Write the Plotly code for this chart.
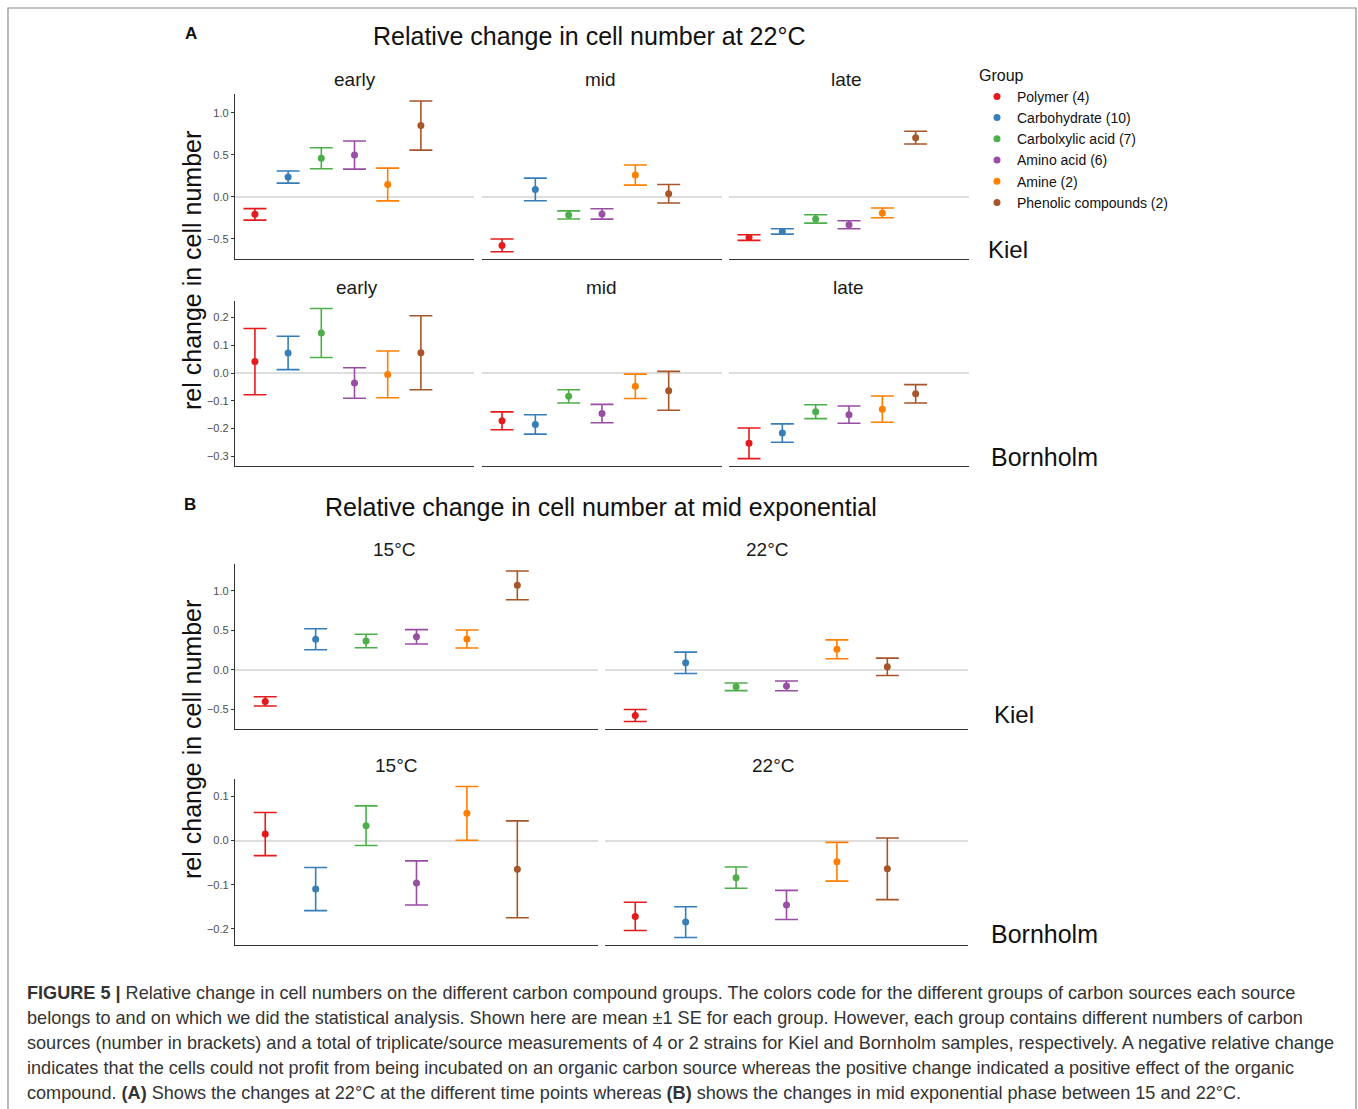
import plotly.graph_objects as go

W, H = 1358, 1109

# ---------------- data ----------------
groups = ["Polymer (4)", "Carbohydrate (10)", "Carbolxylic acid (7)",
          "Amino acid (6)", "Amine (2)", "Phenolic compounds (2)"]
colors = ["#E41A1C", "#377EB8", "#4DAF4A", "#984EA3", "#FF7F00", "#A65628"]

# Panel A: 22°C, Kiel
kiel_early_mean = [-0.210, 0.234, 0.458, 0.496, 0.146, 0.847]
kiel_early_se   = [0.068, 0.072, 0.125, 0.167, 0.195, 0.292]
kiel_mid_mean   = [-0.580, 0.087, -0.217, -0.205, 0.258, 0.036]
kiel_mid_se     = [0.076, 0.135, 0.048, 0.062, 0.120, 0.110]
kiel_late_mean  = [-0.486, -0.413, -0.264, -0.334, -0.193, 0.703]
kiel_late_se    = [0.034, 0.032, 0.050, 0.048, 0.058, 0.076]
# Panel A: 22°C, Bornholm
born_early_mean = [0.041, 0.072, 0.144, -0.036, -0.005, 0.073]
born_early_se   = [0.119, 0.060, 0.088, 0.055, 0.084, 0.133]
born_mid_mean   = [-0.172, -0.185, -0.084, -0.146, -0.048, -0.064]
born_mid_se     = [0.032, 0.035, 0.024, 0.033, 0.044, 0.070]
born_late_mean  = [-0.253, -0.216, -0.139, -0.150, -0.130, -0.075]
born_late_se    = [0.055, 0.033, 0.025, 0.031, 0.047, 0.033]
# Panel B: mid exponential, 15°C (22°C equals the "mid" data above)
kiel_15_mean = [-0.401, 0.386, 0.363, 0.416, 0.388, 1.068]
kiel_15_se   = [0.059, 0.133, 0.085, 0.091, 0.114, 0.182]
born_15_mean = [0.015, -0.110, 0.034, -0.096, 0.062, -0.065]
born_15_se   = [0.049, 0.049, 0.045, 0.050, 0.061, 0.110]

facets_A = ["early", "mid", "late"]
facets_B = ["15°C", "22°C"]
ticks_A_kiel = [-0.5, 0.0, 0.5, 1.0]
ticks_A_born = [-0.3, -0.2, -0.1, 0.0, 0.1, 0.2]
ticks_B_kiel = [-0.5, 0.0, 0.5, 1.0]
ticks_B_born = [-0.2, -0.1, 0.0, 0.1]

# ---------------- layout helpers ----------------
FONT = "Liberation Sans, Arial, sans-serif"
cols_A = [(235, 474), (482, 722), (729, 969)]
cols_B = [(235, 598), (605, 968)]

panels = [
    # (col px, row px, y range, ticks, mean, se, facet title, facet title x px)
    (cols_A[0], (93.5, 259.3), [-0.745, 1.229], ticks_A_kiel, kiel_early_mean, kiel_early_se, facets_A[0], 355),
    (cols_A[1], (93.5, 259.3), [-0.745, 1.229], ticks_A_kiel, kiel_mid_mean, kiel_mid_se, facets_A[1], 600),
    (cols_A[2], (93.5, 259.3), [-0.745, 1.229], ticks_A_kiel, kiel_late_mean, kiel_late_se, facets_A[2], 846),
    (cols_A[0], (301.3, 466.1), [-0.335, 0.258], ticks_A_born, born_early_mean, born_early_se, facets_A[0], 357),
    (cols_A[1], (301.3, 466.1), [-0.335, 0.258], ticks_A_born, born_mid_mean, born_mid_se, facets_A[1], 601),
    (cols_A[2], (301.3, 466.1), [-0.335, 0.258], ticks_A_born, born_late_mean, born_late_se, facets_A[2], 848),
    (cols_B[0], (563.5, 729.2), [-0.753, 1.344], ticks_B_kiel, kiel_15_mean, kiel_15_se, facets_B[0], 394),
    (cols_B[1], (563.5, 729.2), [-0.753, 1.344], ticks_B_kiel, kiel_mid_mean, kiel_mid_se, facets_B[1], 767),
    (cols_B[0], (779.0, 945.0), [-0.237, 0.140], ticks_B_born, born_15_mean, born_15_se, facets_B[0], 396),
    (cols_B[1], (779.0, 945.0), [-0.237, 0.140], ticks_B_born, born_mid_mean, born_mid_se, facets_B[1], 773),
]

def px_x(v):
    return v / W

def px_y(v):
    return 1 - v / H

fig = go.Figure()
annotations = []
layout_axes = {}

for i, (cx, ry, yr, ticks, means, ses, ftitle, fx) in enumerate(panels, start=1):
    xa = "xaxis" if i == 1 else f"xaxis{i}"
    ya = "yaxis" if i == 1 else f"yaxis{i}"
    xref = "x" if i == 1 else f"x{i}"
    yref = "y" if i == 1 else f"y{i}"
    first_col = cx[0] == 235
    layout_axes[xa] = dict(
        domain=[px_x(cx[0]), px_x(cx[1])], anchor=yref, range=[0.4, 7.6],
        showgrid=False, zeroline=False, showticklabels=False, ticks="",
        showline=True, linecolor="#333333", linewidth=1.3, fixedrange=True,
    )
    layout_axes[ya] = dict(
        domain=[px_y(ry[1]), px_y(ry[0])], anchor=xref, range=yr,
        showgrid=False, zeroline=True, zerolinecolor="#DEDEDE", zerolinewidth=1.5,
        tickvals=ticks, tickformat=".1f", showticklabels=first_col,
        ticks="outside" if first_col else "", ticklen=3, tickcolor="#333333",
        tickfont=dict(size=11, color="#4D4D4D", family=FONT),
        showline=first_col, linecolor="#333333", linewidth=1.3, fixedrange=True,
    )
    for g, (name, col) in enumerate(zip(groups, colors)):
        fig.add_trace(go.Scatter(
            x=[g + 1], y=[means[g]], mode="markers",
            marker=dict(color=col, size=7),
            error_y=dict(type="data", array=[ses[g]], color=col,
                         thickness=1.6, width=11.5, visible=True),
            name=name, legendgroup=name, showlegend=(i == 1),
            xaxis=xref, yaxis=yref,
        ))
    annotations.append(dict(
        text=ftitle, x=px_x(fx), y=px_y(ry[0] - 14),
        xref="paper", yref="paper", showarrow=False, xanchor="center",
        font=dict(size=19, color="#1A1A1A", family=FONT), yanchor="middle",
    ))

def txt(text, x, y, size, xanchor="left", angle=0, bold=False, color="#111111"):
    annotations.append(dict(
        text=f"<b>{text}</b>" if bold else text, x=px_x(x), y=px_y(y),
        xref="paper", yref="paper", showarrow=False, xanchor=xanchor,
        yanchor="middle", textangle=angle,
        font=dict(size=size, color=color, family=FONT),
    ))

txt("A", 183, 34, 17, bold=True)
txt("Relative change in cell number at 22°C", 589, 36, 25, xanchor="center")
txt("B", 182, 505, 17, bold=True)
txt("Relative change in cell number at mid exponential", 601, 507, 25, xanchor="center")
txt("rel change in cell number", 192, 271, 25, xanchor="center", angle=-90)
txt("rel change in cell number", 192, 740, 25, xanchor="center", angle=-90)
txt("Kiel", 986, 249, 24)
txt("Bornholm", 989, 457, 25)
txt("Kiel", 992, 714, 24)
txt("Bornholm", 989, 934, 25)

caption_lines = [
    "<b>FIGURE 5 |</b> Relative change in cell numbers on the different carbon compound groups. The colors code for the different groups of carbon sources each source",
    "belongs to and on which we did the statistical analysis. Shown here are mean ±1 SE for each group. However, each group contains different numbers of carbon",
    "sources (number in brackets) and a total of triplicate/source measurements of 4 or 2 strains for Kiel and Bornholm samples, respectively. A negative relative change",
    "indicates that the cells could not profit from being incubated on an organic carbon source whereas the positive change indicated a positive effect of the organic",
    "compound. <b>(A)</b> Shows the changes at 22°C at the different time points whereas <b>(B)</b> shows the changes in mid exponential phase between 15 and 22°C.",
]
for k, line in enumerate(caption_lines):
    annotations.append(dict(
        text=line, x=px_x(25), y=px_y(993 + 25 * k), xref="paper", yref="paper",
        showarrow=False, xanchor="left", yanchor="middle",
        font=dict(size=18.1, color="#333333", family=FONT),
    ))

fig.update_layout(
    width=W, height=H, margin=dict(l=0, r=0, t=0, b=0),
    paper_bgcolor="white", plot_bgcolor="white",
    font=dict(family=FONT, color="#111111"),
    annotations=annotations,
    legend=dict(
        title=dict(text="Group", font=dict(size=16, color="#111111", family=FONT)),
        x=px_x(977), y=px_y(60), xanchor="left", yanchor="top",
        font=dict(size=14, color="#111111", family=FONT),
        bgcolor="rgba(0,0,0,0)", tracegroupgap=0, itemwidth=30,
    ),
    shapes=[dict(type="rect", xref="paper", yref="paper",
                 x0=px_x(8), x1=px_x(1356), y0=-0.02, y1=px_y(8),
                 line=dict(color="#8C8C8C", width=1.2))],
    **layout_axes,
)

fig.write_html(
    "out.html",
    config={"displayModeBar": False},
    post_script="document.body.style.margin='0';document.body.style.overflow='hidden';",
)
